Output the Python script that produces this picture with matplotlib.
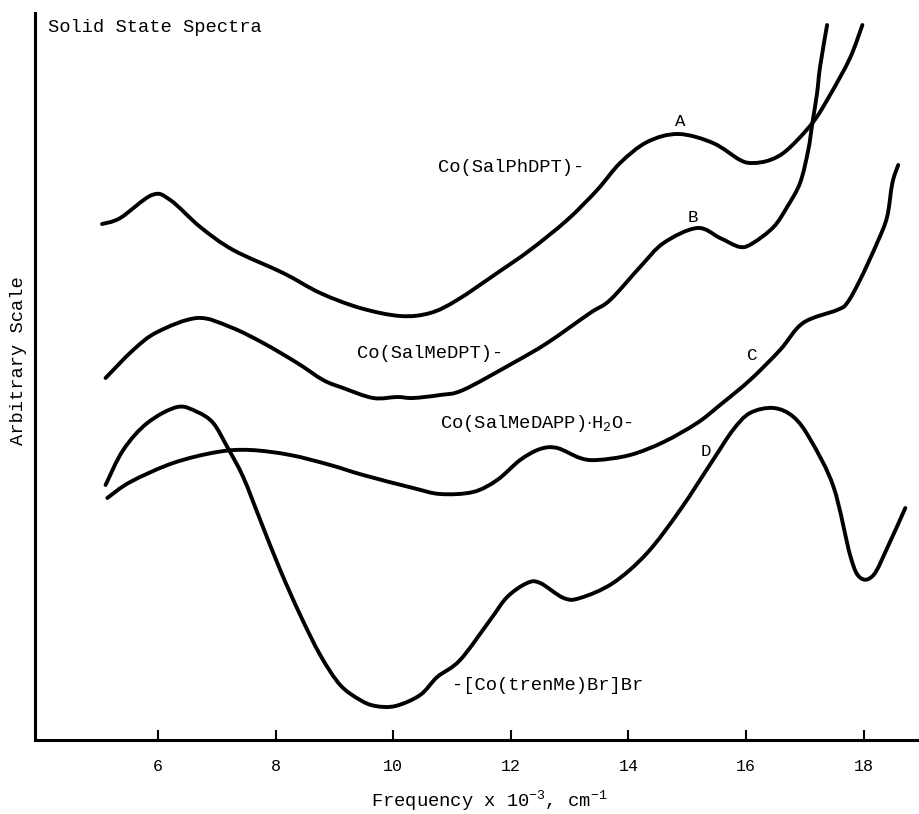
import numpy as np
import matplotlib.pyplot as plt
from matplotlib.path import Path
from matplotlib.patches import PathPatch

plt.rcParams['font.family'] = ['Liberation Mono', 'DejaVu Sans Mono']
plt.rcParams['mathtext.fontset'] = 'custom'
plt.rcParams['mathtext.rm'] = 'Liberation Mono'
plt.rcParams['mathtext.it'] = 'Liberation Mono'

# curve A  Co(SalPhDPT)
freq_a = [5.05, 5.36, 5.90, 6.21, 6.72, 7.28, 8.13, 8.76, 9.44, 10.12, 10.63, 11.09, 11.77,
          12.33, 12.96, 13.47, 13.86, 14.32, 14.85, 15.44, 15.90, 16.12, 16.41, 16.70,
          17.13, 17.43, 17.77, 17.98]
sig_a = [516, 522, 545, 540, 513, 490, 467, 447, 432, 424, 427, 440, 467,
         490, 520, 550, 577, 598, 606, 597, 580, 577, 580, 590,
         617, 645, 682, 715]

# curve B  Co(SalMeDPT)
freq_b = [5.11, 5.58, 5.99, 6.67, 7.23, 7.79, 8.37, 8.81, 9.15, 9.66, 10.07, 10.34, 10.80,
          11.19, 12.04, 12.62, 13.35, 13.69, 14.20, 14.60, 15.17, 15.56, 15.90, 16.12,
          16.47, 16.70, 16.92, 17.06, 17.13, 17.21, 17.26, 17.38]
sig_b = [362, 390, 408, 422, 413, 397, 377, 360, 352, 342, 343, 342, 345,
         350, 377, 397, 427, 440, 473, 497, 512, 502, 493, 497,
         513, 533, 557, 590, 617, 647, 673, 715]

# curve C  Co(SalMeDAPP).H2O
freq_c = [5.14, 5.53, 6.26, 7.01, 7.57, 8.25, 8.93, 9.49, 10.34, 10.80, 11.36, 11.77, 12.16,
          12.50, 12.79, 13.18, 13.47, 14.03, 14.60, 15.17, 15.56, 16.07, 16.58, 16.97,
          17.55, 17.72, 17.94, 18.23, 18.40, 18.49, 18.59]
sig_c = [242, 258, 277, 288, 290, 285, 275, 265, 252, 246, 248, 260, 280,
         291, 292, 282, 280, 285, 298, 317, 335, 360, 390, 417,
         430, 437, 460, 497, 523, 557, 575]

# curve D  [Co(trenMe)Br]Br
freq_d = [5.11, 5.41, 5.82, 6.33, 6.67, 6.94, 7.18, 7.45, 7.74, 8.08, 8.42, 8.76, 9.10,
          9.44, 9.70, 10.04, 10.46, 10.75, 11.14, 11.65, 11.94, 12.28, 12.50, 12.90,
          13.18, 13.74, 14.32, 14.88, 15.44, 15.78, 16.07, 16.47, 16.81, 17.10, 17.49,
          17.78, 17.95, 18.17, 18.41, 18.71]
sig_d = [255, 290, 317, 333, 328, 317, 293, 263, 220, 170, 125, 85, 55,
         40, 34, 34, 45, 63, 80, 120, 143, 157, 157, 142,
         142, 157, 187, 230, 280, 310, 327, 332, 323, 300, 253,
         183, 162, 165, 193, 232]

ticks = [6, 8, 10, 12, 14, 16, 18]


def smooth_path(xs, ys):
    # Catmull-Rom through the read points, as cubic Bezier segments
    p = np.column_stack([xs, ys]).astype(float)
    pad = np.vstack([p[0], p, p[-1]])
    verts = [p[0]]
    codes = [Path.MOVETO]
    for i in range(1, len(pad) - 2):
        p0, p1, p2, p3 = pad[i - 1], pad[i], pad[i + 1], pad[i + 2]
        verts += [p1 + (p2 - p0) / 6, p2 - (p3 - p1) / 6, p2]
        codes += [Path.CURVE4] * 3
    return Path(verts, codes)


fig = plt.figure(figsize=(9.2, 8.14), dpi=100)
ax = fig.add_axes([35/920, 74/814, 885/920, 727/814])

for fx, sy in [(freq_a, sig_a), (freq_b, sig_b), (freq_c, sig_c), (freq_d, sig_d)]:
    ax.add_patch(PathPatch(smooth_path(fx, sy), fill=False, edgecolor='black', lw=2.8,
                           joinstyle='round', capstyle='round', clip_on=False))

ax.set_xlim(3.91, 18.96)
ax.set_ylim(0, 727)
ax.spines['top'].set_visible(False)
ax.spines['right'].set_visible(False)
ax.spines['left'].set_linewidth(2.2)
ax.spines['bottom'].set_linewidth(2.2)
ax.set_xticks(ticks)
ax.set_xticklabels([str(t) for t in ticks])
ax.set_yticks([])
ax.tick_params(axis='x', direction='in', length=7, width=1.5, pad=14, labelsize=12)

fs = 13.5
ax.text(4.13, 712, 'Solid State Spectra', fontsize=fs, va='center', ha='left')
ax.text(10.77, 572, 'Co(SalPhDPT)-', fontsize=fs, va='center', ha='left')
ax.text(14.88, 618, 'A', fontsize=fs - 1, va='center', ha='center')
ax.text(15.09, 523, 'B', fontsize=fs - 1, va='center', ha='center')
ax.text(9.39, 387, 'Co(SalMeDPT)-', fontsize=fs, va='center', ha='left')
ax.text(16.11, 385, 'C', fontsize=fs - 1, va='center', ha='center')
ax.text(10.80, 317, r'Co(SalMeDAPP)$\cdot$H$_2$O-', fontsize=fs, va='center', ha='left')
ax.text(15.31, 288, 'D', fontsize=fs - 1, va='center', ha='center')
ax.text(11.0, 54, '-[Co(trenMe)Br]Br', fontsize=fs, va='center', ha='left')

fig.text(489/920, 1 - 801/814, r'Frequency x 10$^{-3}$, cm$^{-1}$', fontsize=fs,
         ha='center', va='center')
fig.text(19/920, 1 - 361/814, 'Arbitrary Scale', fontsize=fs, rotation=90,
         ha='center', va='center')

fig.savefig('out.png', dpi=100)
